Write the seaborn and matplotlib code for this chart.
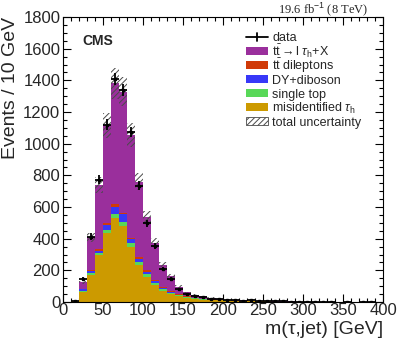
import numpy as np
import pandas as pd
import matplotlib
matplotlib.use('Agg')
import matplotlib.pyplot as plt
from matplotlib.patches import Rectangle
from matplotlib.ticker import MultipleLocator
import seaborn as sns

# 10 GeV bins from 0 to 400 GeV
bin_edges = np.arange(0, 410, 10)

ttbar_ltau = [0, 2, 42, 204, 408, 618, 764, 764, 648, 477,
              336, 235, 143, 99, 50, 26, 18, 14, 10, 6,
              5, 4, 3, 3, 2, 2, 2, 1, 1, 1,
              1, 1, 0, 0, 0, 0, 0, 0, 0, 0]
ttbar_dilep = [0, 0, 4, 7, 7, 10, 15, 8, 9, 11,
               11, 7, 6, 4, 2, 2, 1, 1, 1, 1,
               0, 0, 0, 0, 0, 0, 0, 0, 0, 0,
               0, 0, 0, 0, 0, 0, 0, 0, 0, 0]
dy_diboson = [0, 0, 12, 14, 15, 32, 48, 49, 25, 21,
              15, 14, 6, 6, 3, 2, 3, 2, 2, 1,
              1, 1, 1, 0, 0, 0, 0, 0, 0, 0,
              0, 0, 0, 0, 0, 0, 0, 0, 0, 0]
single_top = [0, 0, 5, 11, 10, 17, 21, 25, 25, 17,
              20, 15, 9, 7, 5, 4, 3, 3, 2, 2,
              2, 1, 1, 1, 0, 0, 0, 0, 0, 0,
              0, 0, 0, 0, 0, 0, 0, 0, 0, 0]
misid_tau = [3, 4, 63, 172, 300, 439, 534, 483, 348, 235,
             158, 105, 71, 50, 38, 28, 21, 16, 12, 10,
             8, 7, 6, 5, 4, 4, 3, 3, 3, 2,
             2, 2, 2, 2, 2, 2, 2, 2, 2, 2]
data_obs = [0, 8, 147, 414, 772, 1120, 1407, 1339, 1074, 736,
            498, 357, 208, 145, 82, 48, 38, 31, 22, 19,
            13, 12, 9, 10, 6, 5, 4, 4, 3, 3,
            2, 3, 1, 2, 0, 1, 0, 1, 1, 0]
rel_uncertainty = 0.07

process_names = [r'$\mathrm{t\bar{t}} \rightarrow \mathrm{l}\ \tau_\mathrm{h}$+X',
                 r'$\mathrm{t\bar{t}}$ dileptons',
                 'DY+diboson',
                 'single top',
                 r'misidentified $\tau_\mathrm{h}$']
process_colors = ['#9a2f9c', '#d03a08', '#3838f8', '#58d858', '#cc9a00']
hatch_color = '#4a4a4a'


def draw_legend(ax):
    # evenly spaced rows like the ROOT legend, in axes coordinates
    x0, x1, xt = 0.572, 0.641, 0.653
    y_top, pitch, half_h, base_off = 0.930, 0.0494, 0.014, 0.0155
    tr = ax.transAxes
    rows = ['data'] + process_names + ['total uncertainty']
    for i, label in enumerate(rows):
        yc = y_top - i * pitch
        if i == 0:
            ax.plot([x0, x1], [yc, yc], color='black', lw=1.3, transform=tr, clip_on=False)
            xm = (x0 + x1) / 2
            ax.plot([xm, xm], [yc - half_h, yc + half_h], color='black', lw=1.3,
                    transform=tr, clip_on=False)
        elif i <= len(process_colors):
            ax.add_patch(Rectangle((x0, yc - half_h), x1 - x0, 2 * half_h, transform=tr,
                                   facecolor=process_colors[i - 1], edgecolor='none'))
        else:
            ax.add_patch(Rectangle((x0, yc - half_h), x1 - x0, 2 * half_h, transform=tr,
                                   facecolor='white', edgecolor=hatch_color, hatch='//////',
                                   linewidth=0.6))
        ax.text(xt, yc - base_off, label, transform=tr, fontsize=9, ha='left', va='baseline')


def make_plot():
    sns.set_theme(style='ticks')
    plt.rcParams['font.family'] = ['Liberation Sans', 'DejaVu Sans']
    plt.rcParams['mathtext.fontset'] = 'custom'
    plt.rcParams['mathtext.rm'] = 'Liberation Sans'
    plt.rcParams['mathtext.it'] = 'Liberation Sans:italic'
    plt.rcParams['hatch.linewidth'] = 0.7

    centers = (bin_edges[:-1] + bin_edges[1:]) / 2
    series = [ttbar_ltau, ttbar_dilep, dy_diboson, single_top, misid_tau]
    df = pd.concat([pd.DataFrame({'m': centers, 'w': vals, 'proc': name})
                    for name, vals in zip(process_names, series)], ignore_index=True)

    fig = plt.figure(figsize=(3.99, 3.48), dpi=100)
    ax = fig.add_axes([0.158, 0.132, 0.802, 0.819])

    sns.histplot(data=df, x='m', weights='w', hue='proc', hue_order=process_names,
                 multiple='stack', bins=len(bin_edges) - 1, binrange=(bin_edges[0], bin_edges[-1]),
                 palette=dict(zip(process_names, process_colors)),
                 alpha=1, linewidth=0, legend=False, ax=ax)

    total = np.sum(np.array(series, dtype=float), axis=0)
    unc = total * rel_uncertainty
    ax.bar(centers, 2 * unc, bottom=total - unc, width=10, fill=False,
           hatch='//////', edgecolor=hatch_color, linewidth=0)

    data = np.array(data_obs, dtype=float)
    shown = data > 0
    ax.errorbar(centers[shown], data[shown], yerr=np.sqrt(data[shown]), xerr=5,
                fmt='s', ms=2, color='black', elinewidth=1.3, capsize=0)

    ax.set_xlim(0, 400)
    ax.set_ylim(0, 1800)
    ax.xaxis.set_major_locator(MultipleLocator(50))
    ax.xaxis.set_minor_locator(MultipleLocator(10))
    ax.yaxis.set_major_locator(MultipleLocator(200))
    ax.yaxis.set_minor_locator(MultipleLocator(50))
    ax.tick_params(which='both', direction='in', top=True, right=True, labelsize=12, color='black')
    ax.tick_params(axis='x', pad=1)
    ax.tick_params(axis='y', pad=2)
    ax.tick_params(which='major', length=6, width=0.8)
    ax.tick_params(which='minor', length=3, width=0.8)
    for sp in ax.spines.values():
        sp.set_linewidth(0.8)
        sp.set_color('black')

    ax.set_xlabel(u'm(\u03c4,jet) [GeV]', fontsize=14, loc='right', labelpad=2)
    ax.set_ylabel('Events / 10 GeV', fontsize=14, loc='top', labelpad=3)

    ax.text(0.06, 0.917, 'CMS', transform=ax.transAxes, fontsize=10, fontweight='bold',
            ha='left', va='center')
    fig.text(0.922, 0.974, r'19.6 fb$^{-1}$ (8 TeV)', fontsize=9, family='Liberation Serif',
             ha='right', va='center')

    draw_legend(ax)

    fig.savefig('out.png', dpi=100)


if __name__ == '__main__':
    make_plot()
